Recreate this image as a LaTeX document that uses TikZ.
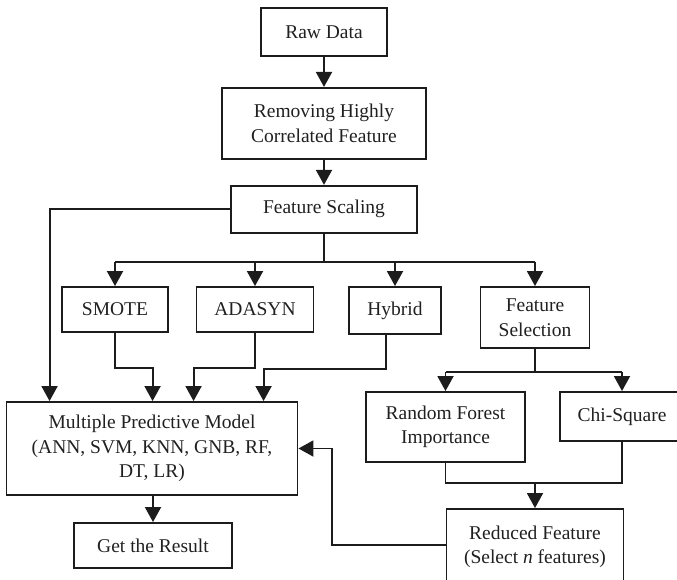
\documentclass[tikz,border=0pt]{standalone}
\usepackage{fontspec}
\setmainfont{Liberation Serif}
\usetikzlibrary{arrows.meta,positioning}
\definecolor{boxLine}{HTML}{1C1C1C}
\definecolor{boxText}{HTML}{202020}

\begin{document}
\begin{tikzpicture}[
  x=1pt, y=1pt,
  font=\fontsize{19.5}{24.5}\selectfont,
  box/.style={
    rectangle, draw=boxLine, line width=1.9pt,
    text=boxText, align=center, inner sep=0pt
  },
  flow/.style={-{Triangle[length=15pt,width=16pt]}, line width=1.9pt, draw=boxLine},
  link/.style={line width=1.9pt, draw=boxLine}
]
\useasboundingbox (0,0) rectangle (677,-580);

%  Preprocessing chain 
\node[box, minimum width=126pt, minimum height=48pt] (raw) at (324,-32) {Raw Data};
\node[box, minimum width=204pt, minimum height=71pt, below=30pt of raw] (remove)
  {Removing Highly\\Correlated Feature};
\node[box, minimum width=186pt, minimum height=47pt, below=25pt of remove] (scale)
  {Feature Scaling};

%  Balancing and selection branches 
\node[box, minimum width=106pt, minimum height=45pt] (smote)  at (115,-309.5) {SMOTE};
\node[box, minimum width=117pt, minimum height=45pt] (adasyn) at (255,-309.5) {ADASYN};
\node[box, minimum width=92pt,  minimum height=47pt] (hybrid) at (395,-310.5) {Hybrid};
\node[box, minimum width=109pt, minimum height=61pt] (fsel)   at (535,-317.5) {Feature\\Selection};

\node[box, minimum width=159pt, minimum height=70pt] (rfi) at (445.5,-427) {Random Forest\\Importance};
\node[box, minimum width=124pt, minimum height=49pt] (chi) at (622,-416.5) {Chi-Square};
\node[box, minimum width=177pt, minimum height=76pt] (reduced) at (535,-547)
  {Reduced Feature\\(Select \textit{n} features)};

%  Models and output 
\node[box, minimum width=291pt, minimum height=93pt] (model) at (152,-448.5)
  {Multiple Predictive Model\\(ANN, SVM, KNN, GNB, RF,\\DT, LR)};
\node[box, minimum width=158pt, minimum height=45pt] (result) at (153,-545.5) {Get the Result};

%  Flow arrows 
\draw[flow] (raw) -- (remove);
\draw[flow] (remove) -- (scale);
\draw[flow] (scale.west) -| ([xshift=44pt]model.north west);

\draw[link] (scale.south) -- ++(0,-28) coordinate (bus);
\draw[link] (bus -| smote) -- (bus -| fsel);
\foreach \n in {smote, adasyn, hybrid, fsel}
  \draw[flow] (bus -| \n) -- (\n.north);

\draw[flow] (smote.south) -- ++(0,-35) -| ([xshift=147pt]model.north west);
\draw[flow] (adasyn.south) -- ++(0,-35) -| ([xshift=188pt]model.north west);
\draw[flow] ([xshift=-9pt]hybrid.south) -- ++(0,-34) -| ([xshift=258pt]model.north west);

\draw[link] (fsel.south) -- ++(0,-23) coordinate (sel);
\draw[link] (sel -| rfi) -- (sel -| chi);
\draw[flow] (sel -| rfi) -- (rfi.north);
\draw[flow] (sel -| chi) -- (chi.north);

\draw[link] (rfi.south) -- ++(0,-20) coordinate (join) -- (join -| chi) -- (chi.south);
\draw[flow] (join -| reduced) -- (reduced.north);

\draw[flow] ([yshift=2pt]reduced.west) -- ++(-114,0) |- (model.east);
\draw[flow] (result.north |- model.south) -- (result.north);

\end{tikzpicture}
\end{document}
